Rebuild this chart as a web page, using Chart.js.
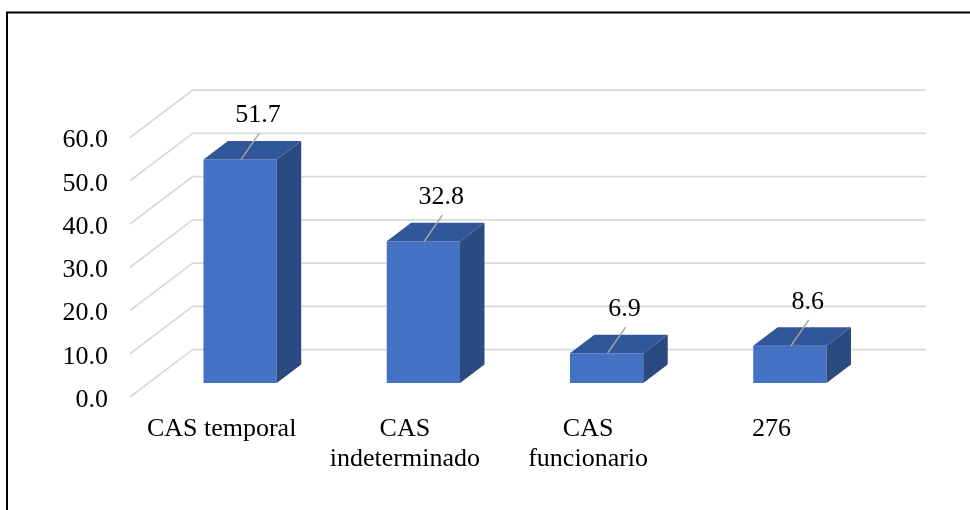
<!DOCTYPE html>
<html>
<head>
<meta charset="utf-8">
<script src="https://cdn.jsdelivr.net/npm/chart.js@4"></script>
<style>
  html, body { margin: 0; padding: 0; background: #ffffff; }
  canvas { display: block; }
</style>
</head>
<body>
<canvas id="c" width="970" height="510"></canvas>
<script>
// ---- data ----
const categories = ['CAS temporal', ['CAS', 'indeterminado'], ['CAS', 'funcionario'], '276'];
const values = [51.7, 32.8, 6.9, 8.6];
const yMin = 0;
const yMax = 60;
const yStep = 10;

// ---- style ----
const FONT = "'Liberation Serif', 'Times New Roman', serif";
const DEPTH = { dx: 62.7, dy: -47.4, f1: 0.295, f2: 0.685 };
const FRONT = '#4472C4', TOP = '#31569A', SIDE = '#2B4A80';

const frame3d = {
  id: 'frame3d',
  beforeDraw(chart) {
    const ctx = chart.ctx;
    ctx.save();
    ctx.fillStyle = '#ffffff';
    ctx.fillRect(0, 0, chart.width, chart.height);
    ctx.strokeStyle = '#000000';
    ctx.lineWidth = 2;
    ctx.strokeRect(7, 12.5, 1100, 700);
    ctx.restore();
  },
  beforeDatasetsDraw(chart) {
    const { ctx, chartArea: a, scales: { y } } = chart;
    ctx.save();
    ctx.strokeStyle = '#d9d9d9';
    ctx.lineWidth = 1.6;
    y.ticks.forEach(t => {
      const py = y.getPixelForValue(t.value);
      ctx.beginPath();
      ctx.moveTo(a.left, py);
      ctx.lineTo(a.left + DEPTH.dx, py + DEPTH.dy);
      ctx.lineTo(a.right + DEPTH.dx, py + DEPTH.dy);
      ctx.stroke();
    });
    ctx.restore();
  },
  beforeDatasetDraw(chart) {
    chart.ctx.save();
    chart.ctx.translate(DEPTH.f1 * DEPTH.dx, DEPTH.f1 * DEPTH.dy);
  },
  afterDatasetDraw(chart, args) {
    const ctx = chart.ctx;
    ctx.restore();
    const ox = DEPTH.f1 * DEPTH.dx, oy = DEPTH.f1 * DEPTH.dy;
    const ddx = (DEPTH.f2 - DEPTH.f1) * DEPTH.dx, ddy = (DEPTH.f2 - DEPTH.f1) * DEPTH.dy;
    ctx.save();
    args.meta.data.forEach(el => {
      const p = el.getProps(['x', 'y', 'base', 'width'], true);
      const l = p.x - p.width / 2 + ox, r = p.x + p.width / 2 + ox;
      const t = p.y + oy, b = p.base + oy;
      ctx.fillStyle = SIDE;
      ctx.beginPath();
      ctx.moveTo(r, t); ctx.lineTo(r + ddx, t + ddy); ctx.lineTo(r + ddx, b + ddy); ctx.lineTo(r, b);
      ctx.closePath(); ctx.fill();
      ctx.fillStyle = TOP;
      ctx.beginPath();
      ctx.moveTo(l, t); ctx.lineTo(l + ddx, t + ddy); ctx.lineTo(r + ddx, t + ddy); ctx.lineTo(r, t);
      ctx.closePath(); ctx.fill();
    });
    ctx.restore();
  },
  afterDatasetsDraw(chart) {
    const ctx = chart.ctx;
    const meta = chart.getDatasetMeta(0);
    const ox = DEPTH.f1 * DEPTH.dx, oy = DEPTH.f1 * DEPTH.dy;
    ctx.save();
    meta.data.forEach((el, i) => {
      const p = el.getProps(['x', 'y'], true);
      const cx = p.x + ox, top = p.y + oy;
      const lx = cx + 18, ly = top - 44;
      ctx.strokeStyle = '#a6a6a6';
      ctx.lineWidth = 1.5;
      ctx.beginPath();
      ctx.moveTo(lx + 1, ly + 18);
      ctx.lineTo(cx + 1, top);
      ctx.stroke();
      ctx.fillStyle = '#000000';
      ctx.font = '26px ' + FONT;
      ctx.textAlign = 'center';
      ctx.textBaseline = 'middle';
      ctx.fillText(chart.data.datasets[0].data[i].toFixed(1), lx, ly);
    });
    ctx.restore();
  }
};

new Chart(document.getElementById('c'), {
  type: 'bar',
  data: {
    labels: categories,
    datasets: [{
      data: values,
      backgroundColor: FRONT,
      borderWidth: 0,
      barPercentage: 0.4,
      categoryPercentage: 1.0,
      clip: false
    }]
  },
  options: {
    responsive: false,
    devicePixelRatio: 1,
    animation: false,
    layout: { padding: { left: 0, right: 107, top: 137.5, bottom: 0 } },
    plugins: { legend: { display: false }, tooltip: { enabled: false } },
    scales: {
      x: {
        grid: { display: false, drawTicks: false },
        border: { display: false },
        ticks: {
          color: '#000000',
          font: { family: FONT, size: 26, lineHeight: '30px' },
          padding: 17,
          maxRotation: 0,
          autoSkip: false
        },
        afterFit(scale) { scale.height = 113; }
      },
      y: {
        min: yMin,
        max: yMax,
        grid: { display: false, drawTicks: false },
        border: { display: false },
        ticks: {
          stepSize: yStep,
          color: '#000000',
          font: { family: FONT, size: 26 },
          padding: 22,
          labelOffset: 3,
          callback: v => Number(v).toFixed(1)
        },
        afterFit(scale) { scale.width = 130; }
      }
    }
  },
  plugins: [frame3d]
});
</script>
</body>
</html>
